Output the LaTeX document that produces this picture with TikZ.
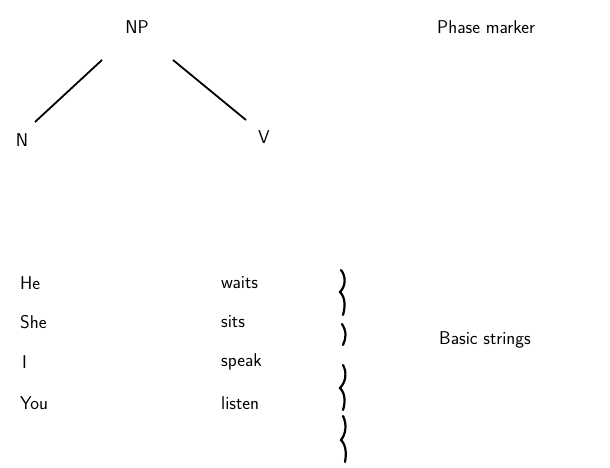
\documentclass[tikz,border=0pt]{standalone}
\usepackage{tikz}
\usetikzlibrary{positioning}
\begin{document}
\begin{tikzpicture}[x=1pt,y=-1pt,
  lbl/.style={font=\sffamily\fontsize{18.5}{21}\selectfont, inner sep=0pt},
  wrd/.style={lbl, anchor=west},
  brc/.style={line width=2.2pt, line cap=round}]
  \useasboundingbox (0,0) rectangle (610,468);
  \node[lbl] (NP) at (137,27) {NP}; %top
  \node[lbl] (N) at (22,140) {N};
  \node[lbl] (V) at (264,137) {V};
  \coordinate (NPl) at (102,60);
  \coordinate (Nu) at (35,122);
  \coordinate (NPr) at (173,60);
  \coordinate (Vu) at (246,120);
  \draw[line width=1.8pt] (NPl)--(Nu);
  \draw[line width=1.8pt] (NPr)--(Vu);
  \node[wrd] (phm) at (437,27) {Phase marker};
  % strings
  \node[wrd] (he) at (20,283) {He};
  \node[wrd] (she) at (20,322) {She};
  \node[wrd] (i) at (22,362) {I};
  \node[wrd] (you) at (20,403) {You};
  \node[wrd] (waits) at (221,283) {waits};
  \node[wrd] (sits) at (221,322) {sits};
  \node[wrd] (speak) at (221,362) {speak};
  \node[wrd] (listen) at (221,403) {listen};
  \node[wrd] (bs) at (439,340) {Basic strings};
  % braces
  \draw[brc] (341,270) .. controls (346,276) and (346,286) .. (340,292)
    .. controls (346,298) and (345,308) .. (343,315);
  \draw[brc] (342,324) .. controls (347,332) and (346,338) .. (343,345);
  \draw[brc] (343,365) .. controls (347,372) and (346,382) .. (340,388)
    .. controls (346,394) and (345,404) .. (343,410);
  \draw[brc] (343,416) .. controls (347,424) and (346,434) .. (341,440)
    .. controls (347,446) and (346,456) .. (345,462);
\end{tikzpicture}
\end{document}
